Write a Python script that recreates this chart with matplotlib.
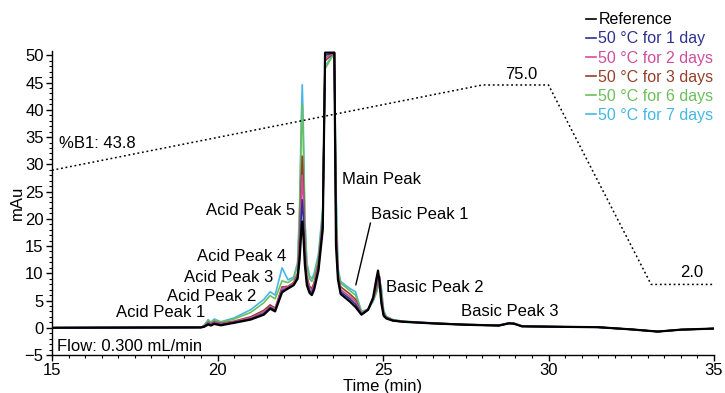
import matplotlib
matplotlib.use("Agg")
import matplotlib.pyplot as plt
from matplotlib.ticker import MultipleLocator
from matplotlib.lines import Line2D

plt.rcParams['font.family'] = ['Liberation Sans', 'DejaVu Sans']

# ---- data ----
time = [15.0, 19.5, 19.6, 19.72, 19.8, 19.9, 20.1, 20.5, 21.0, 21.4, 21.59, 21.74, 21.95, 22.13, 22.3,
        22.42, 22.48, 22.53, 22.56, 22.59, 22.64, 22.7, 22.78, 22.85, 22.92, 23.05, 23.18, 23.25, 23.53,
        23.58, 23.64, 23.72, 24.0, 24.17, 24.35, 24.55, 24.7, 24.8, 24.85, 24.9, 24.95, 25.02, 25.1, 25.3,
        25.6, 26.5, 27.5, 28.5, 28.8, 28.95, 29.2, 30.0, 31.5, 32.5, 33.3, 34.0, 35.0]

reference = [0, 0.05, 0.2, 0.6, 0.4, 0.7, 0.45, 0.9, 1.5, 2.4, 3.5, 3.0, 6.5, 7.2, 7.8,
             9.0, 12.5, 17.5, 19.5, 17.5, 11.5, 7.8, 6.4, 6.0, 7.0, 10.5, 18.0, 50.5, 50.5,
             15.0, 8.8, 6.2, 4.8, 3.8, 2.4, 3.3, 5.5, 9.0, 10.5, 8.0, 4.5, 2.2, 1.7, 1.3,
             1.1, 0.8, 0.55, 0.4, 0.8, 0.75, 0.25, 0.2, 0.1, -0.3, -0.7, -0.35, -0.15]
day1 = [0, 0.06, 0.2, 0.75, 0.5, 0.85, 0.55, 1.0, 1.6, 2.6, 3.7, 3.2, 6.8, 7.3, 7.9,
        9.3, 13.5, 20.5, 23.5, 20.5, 12.5, 8.4, 6.8, 6.4, 7.5, 11.0, 19.0, 50.0, 50.5,
        17.0, 9.2, 6.6, 5.3, 4.3, 2.45, 3.3, 5.4, 8.2, 10.0, 8.8, 5.0, 2.3, 1.8, 1.3,
        1.1, 0.8, 0.55, 0.4, 0.8, 0.75, 0.25, 0.2, 0.1, -0.3, -0.7, -0.35, -0.15]
day2 = [0, 0.08, 0.25, 0.9, 0.6, 1.0, 0.7, 1.1, 1.8, 2.9, 3.9, 3.4, 7.2, 7.5, 8.1,
        9.7, 15.0, 24.0, 28.0, 24.0, 14.0, 9.0, 7.2, 6.8, 8.0, 11.5, 19.5, 49.5, 50.5,
        18.5, 9.5, 7.0, 5.7, 4.8, 2.5, 3.4, 5.3, 7.8, 9.6, 9.2, 5.5, 2.4, 1.8, 1.35,
        1.1, 0.8, 0.55, 0.4, 0.8, 0.8, 0.3, 0.2, 0.1, -0.3, -0.7, -0.35, -0.15]
day3 = [0, 0.1, 0.3, 1.0, 0.7, 1.1, 0.8, 1.2, 2.0, 3.2, 4.2, 3.6, 7.5, 7.6, 8.3,
        10.0, 16.5, 27.0, 31.5, 27.0, 15.0, 9.5, 7.6, 7.2, 8.3, 12.0, 20.0, 49.0, 50.5,
        20.0, 9.8, 7.5, 6.2, 5.2, 2.6, 3.4, 5.2, 7.2, 9.0, 9.4, 6.0, 2.6, 1.9, 1.4,
        1.15, 0.85, 0.6, 0.45, 0.85, 0.8, 0.3, 0.2, 0.1, -0.3, -0.7, -0.35, -0.15]
day6 = [0, 0.1, 0.4, 1.3, 0.9, 1.4, 1.0, 1.6, 2.8, 4.6, 5.9, 5.3, 8.6, 8.3, 9.0,
        11.5, 21.0, 35.0, 41.0, 35.0, 19.0, 11.5, 9.0, 8.5, 9.5, 13.0, 21.0, 47.5, 50.5,
        24.0, 10.5, 8.2, 6.8, 6.0, 2.8, 3.4, 5.0, 6.6, 7.8, 8.6, 7.0, 2.9, 2.0, 1.45,
        1.2, 0.85, 0.6, 0.45, 0.85, 0.8, 0.3, 0.2, 0.1, -0.3, -0.7, -0.35, -0.15]
day7 = [0, 0.1, 0.5, 1.5, 1.0, 1.6, 1.1, 1.8, 3.3, 5.2, 6.6, 6.0, 11.0, 8.8, 9.3,
        12.0, 22.0, 38.0, 44.6, 38.0, 20.0, 12.0, 9.5, 9.0, 10.0, 13.5, 22.0, 48.0, 50.5,
        26.0, 11.0, 8.5, 7.2, 6.6, 3.0, 3.4, 4.8, 6.4, 7.5, 8.3, 7.3, 3.2, 2.1, 1.5,
        1.2, 0.9, 0.6, 0.5, 0.9, 0.85, 0.35, 0.25, 0.1, -0.3, -0.7, -0.35, -0.15]

series_names = ["Reference", "50 °C for 1 day", "50 °C for 2 days", "50 °C for 3 days",
                "50 °C for 6 days", "50 °C for 7 days"]
series_values = [reference, day1, day2, day3, day6, day7]
series_colors = ["#000000", "#2e3192", "#cf4f9c", "#94402a", "#6cbf5a", "#45b7e6"]

grad_time = [15.0, 28.0, 30.0, 33.1, 35.0]
grad_b = [43.8, 75.0, 75.0, 2.0, 2.0]

peak_labels = ["Acid Peak 1", "Acid Peak 2", "Acid Peak 3", "Acid Peak 4", "Acid Peak 5",
               "Main Peak", "Basic Peak 1", "Basic Peak 2", "Basic Peak 3"]
peak_label_x = [16.93, 18.47, 18.99, 19.38, 19.65, 23.76, 24.64, 25.09, 27.36]
peak_label_y = [2.8, 5.7, 9.3, 13.0, 21.6, 27.3, 20.7, 7.3, 2.9]

# ---- figure ----
fig = plt.figure(figsize=(7.25, 3.93), dpi=100)
left, right = 52 / 725, 714 / 725
bottom, top = (393 - 355) / 393, (393 - 51) / 393
ax = fig.add_axes([left, bottom, right - left, top - bottom])
ax.set_xlim(15, 35)
ax.set_ylim(-5, 50.8)

fs = 12
order = [5, 4, 3, 2, 1, 0]
for i in order:
    lw = 1.6 if i == 0 else 1.2
    ax.plot(time, series_values[i], color=series_colors[i], lw=lw, zorder=3 + (6 - i) * 0.1,
            solid_joinstyle='round')

for s in ['top', 'right']:
    ax.spines[s].set_visible(False)
for s in ['left', 'bottom']:
    ax.spines[s].set_linewidth(1.0)

ax.xaxis.set_major_locator(MultipleLocator(5))
ax.xaxis.set_minor_locator(MultipleLocator(0.5))
ax.yaxis.set_major_locator(MultipleLocator(5))
ax.yaxis.set_minor_locator(MultipleLocator(1))
ax.tick_params(axis='both', which='major', length=4, width=1, labelsize=fs, pad=2)
ax.tick_params(axis='both', which='minor', length=2, width=0.8)
ax.set_yticks(list(range(-5, 51, 5)))
ax.set_ylim(-5, 50.8)

ax.set_ylabel("mAu", fontsize=fs, labelpad=0)
ax.set_xlabel("Time (min)", fontsize=fs, labelpad=0.5)

# gradient on twin axis
ax2 = ax.twinx()
bmin = (-5 - 6.95) / 0.5015
bmax = (50.8 - 6.95) / 0.5015
ax2.set_ylim(bmin, bmax)
ax2.plot(grad_time, grad_b, color='black', lw=1.1, linestyle=(0, (1.2, 1.8)), zorder=2)
for s in ax2.spines.values():
    s.set_visible(False)
ax2.set_yticks([])
ax2.text(15.22, 53.7, "%B1: 43.8", fontsize=fs, va='center', ha='left')
ax2.text(29.17, 78.8, "75.0", fontsize=fs, va='center', ha='center')
ax2.text(34.33, 6.2, "2.0", fontsize=fs, va='center', ha='center')

for lab, x, y in zip(peak_labels, peak_label_x, peak_label_y):
    ax.text(x, y, lab, fontsize=fs, va='center', ha='left', zorder=6)

ax.plot([24.62, 24.18], [19.2, 7.9], color='black', lw=1.0, zorder=6)

ax.text(15.15, -3.5, "Flow: 0.300 mL/min", fontsize=fs, va='center', ha='left')

handles = [Line2D([0], [0], color=c, lw=1.2) for c in series_colors]
fig.legend(handles, series_names, loc='upper right', bbox_to_anchor=(0.993, 0.985),
           frameon=False, fontsize=11.5, handlelength=0.6, handletextpad=0.15,
           labelspacing=0.26, borderaxespad=0.0, labelcolor=series_colors)

fig.savefig("out.png", dpi=100)
